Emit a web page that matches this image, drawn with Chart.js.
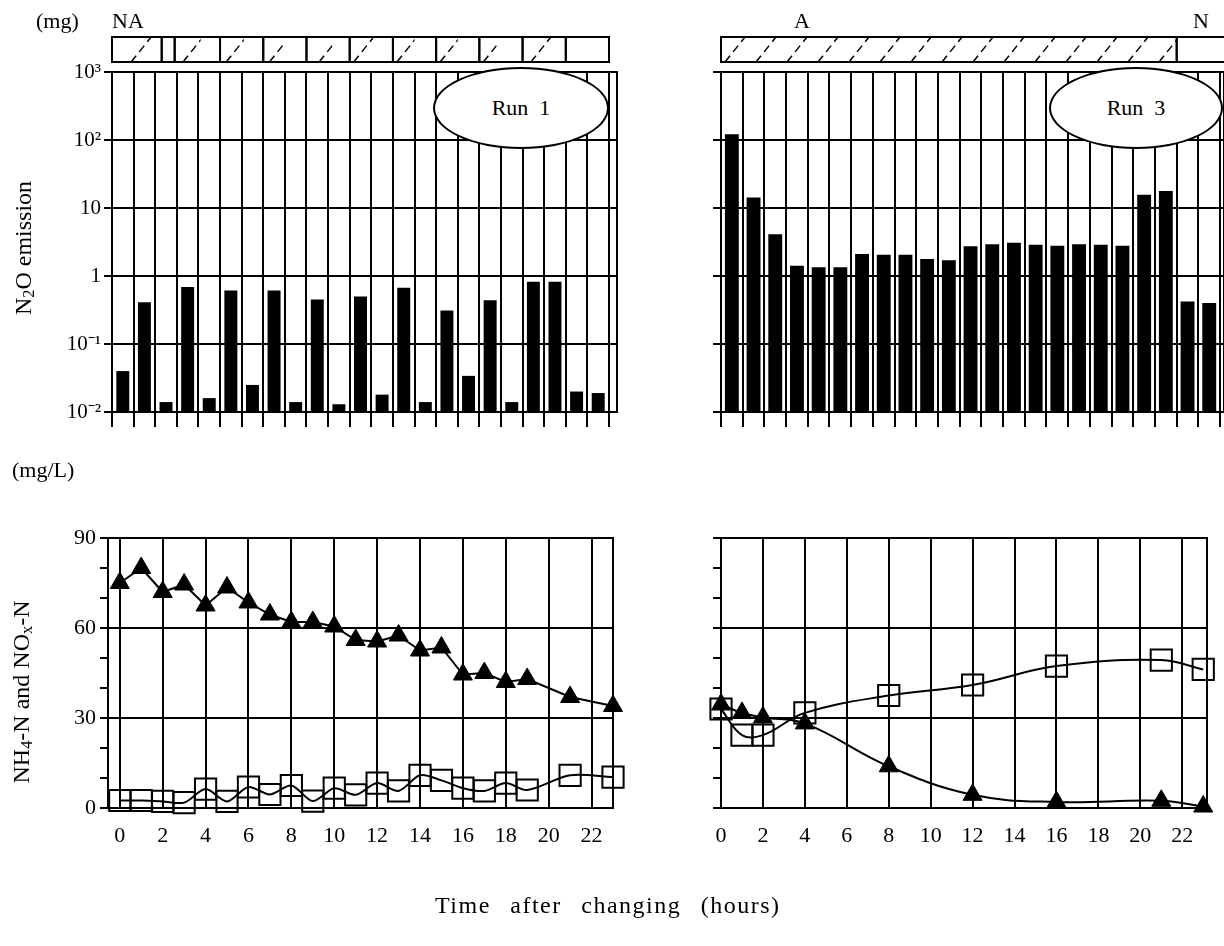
<!DOCTYPE html>
<html>
<head>
<meta charset="utf-8">
<script src="https://cdn.jsdelivr.net/npm/chart.js@4.4.1/dist/chart.umd.min.js"></script>
<style>
  html, body { margin: 0; padding: 0; background: #fff; }
  #page { position: relative; width: 1224px; height: 946px; overflow: hidden;
          font-family: "Liberation Serif", "Times New Roman", serif; color: #000; }
  canvas { position: absolute; }
  .lbl { position: absolute; font-size: 22px; line-height: 1; white-space: nowrap; }
  .ylab { position: absolute; font-size: 24px; line-height: 1; white-space: nowrap;
          transform: translate(-50%, -50%) rotate(-90deg); }
  .ylab sub { font-size: 0.68em; vertical-align: -0.2em; }
  .run { position: absolute; box-sizing: border-box; border: 2px solid #000; border-radius: 50%;
         background: #fff; display: flex; align-items: center; justify-content: center;
         font-size: 22px; white-space: pre; }
</style>
</head>
<body>
<div id="page">
  <canvas id="run1N2OChart" width="630" height="440" style="left:0;top:0"></canvas>
  <canvas id="run3N2OChart" width="584" height="440" style="left:640px;top:0"></canvas>
  <canvas id="run1NChart" width="630" height="486" style="left:0;top:460px"></canvas>
  <canvas id="run3NChart" width="584" height="486" style="left:640px;top:460px"></canvas>

  <div class="lbl" style="left:36px;top:10px">(mg)</div>
  <div class="lbl" style="left:112px;top:10px">NA</div>
  <div class="lbl" style="left:794px;top:10px">A</div>
  <div class="lbl" style="left:1193px;top:10px">N</div>
  <div class="lbl" style="left:12px;top:459px">(mg/L)</div>
  <div class="lbl" style="left:435px;top:893px;font-size:24px;word-spacing:12px;letter-spacing:1.5px">Time after changing (hours)</div>
  <div class="ylab" style="left:24px;top:248px">N<sub>2</sub>O emission</div>
  <div class="ylab" style="left:22px;top:692px">NH<sub>4</sub>-N and NO<sub>x</sub>-N</div>
  <div class="run" style="left:433px;top:67px;width:176px;height:82px">Run  1</div>
  <div class="run" style="left:1049px;top:67px;width:174px;height:82px">Run  3</div>
</div>

<script>
// N2O emission per hour (mg), log scale
const barHours = [0, 1, 2, 3, 4, 5, 6, 7, 8, 9, 10, 11, 12, 13, 14, 15, 16, 17, 18, 19, 20, 21, 22];
const run1N2O = [0.040, 0.41, 0.014, 0.69, 0.016, 0.61, 0.025, 0.61, 0.014, 0.45, 0.013, 0.50,
                 0.018, 0.67, 0.014, 0.31, 0.034, 0.44, 0.014, 0.82, 0.82, 0.020, 0.019];
const run3N2O = [121, 14.3, 4.1, 1.41, 1.34, 1.34, 2.1, 2.05, 2.05, 1.78, 1.71, 2.75,
                 2.92, 3.07, 2.89, 2.78, 2.92, 2.89, 2.78, 15.6, 17.8, 0.42, 0.40];
const logTicks = [0.01, 0.1, 1, 10, 100, 1000];
const logLabels = ['10⁻²', '10⁻¹', '1', '10', '10²', '10³'];

// NH4-N and NOx-N (mg/L)
const run1Hours = [0, 1, 2, 3, 4, 5, 6, 7, 8, 9, 10, 11, 12, 13, 14, 15, 16, 17, 18, 19, 21, 23];
const run1NH4 = [75, 80, 72, 74.5, 67.5, 73.5, 68.5, 64.5, 62, 62, 60.5, 56, 55.5, 57.5, 52.5, 53.5,
                 44.5, 45, 42, 43, 37, 34];
const run1NOx = [2.5, 2.5, 2.2, 1.8, 6.3, 2.2, 7.0, 4.5, 7.5, 2.3, 6.6, 4.4, 8.3, 5.7, 10.9, 9.2,
                 6.6, 5.7, 8.3, 6.0, 10.9, 10.3];
const run3Hours = [0, 1, 2, 4, 8, 12, 16, 21, 23];
const run3NH4 = [34.5, 31.7, 30.2, 28.2, 13.9, 4.4, 2.0, 2.4, 0.5];
const run3NOx = [33, 24.3, 24.3, 31.7, 37.5, 41, 47.3, 49.3, 46.2];
const hourLabels = [0, 2, 4, 6, 8, 10, 12, 14, 16, 18, 20, 22];

// operation mode strip: cell boundaries and aerated (hatched) spans, hours
const run1Cells = [0, 2.3, 2.9, 5, 7, 9, 11, 13, 15, 17, 19, 21, 23];
const run1Aerated = [[0.7, 2.1], [3.1, 4.1], [5.1, 6.1], [7.1, 8], [9.4, 10.2], [11, 12.1],
                     [13, 14], [15, 16], [17, 17.8], [19.2, 20.8]];
const run3Cells = [0, 21, 23.4];
const run3Aerated = [[0, 21]];

Chart.defaults.font.family = '"Liberation Serif", "Times New Roman", serif';
Chart.defaults.font.size = 22;
Chart.defaults.color = '#000';

const frame = {
  id: 'frame',
  afterDraw(chart) {
    const a = chart.chartArea, ctx = chart.ctx;
    ctx.save();
    ctx.strokeStyle = '#000';
    ctx.lineWidth = 2;
    ctx.strokeRect(a.left, a.top, a.right - a.left, a.bottom - a.top);
    ctx.restore();
  }
};

function modeStrip(cells, aerated) {
  return {
    id: 'modeStrip',
    afterDraw(chart) {
      const x = chart.scales.x, ctx = chart.ctx;
      const top = 37, h = 25;
      ctx.save();
      ctx.strokeStyle = '#000';
      aerated.forEach(([s, e]) => {
        const x0 = x.getPixelForValue(s), x1 = x.getPixelForValue(e);
        ctx.save();
        ctx.beginPath();
        ctx.rect(x0, top, x1 - x0, h);
        ctx.clip();
        ctx.lineWidth = 1.5;
        ctx.setLineDash([8, 5]);
        for (let p = x0 + 4; p < x1 + 20; p += 31) {
          ctx.beginPath();
          ctx.moveTo(p, top + h);
          ctx.lineTo(p + 20, top);
          ctx.stroke();
        }
        ctx.restore();
      });
      ctx.lineWidth = 2;
      for (let i = 0; i < cells.length - 1; i++) {
        const x0 = x.getPixelForValue(cells[i]), x1 = x.getPixelForValue(cells[i + 1]);
        ctx.strokeRect(x0, top, x1 - x0, h);
      }
      ctx.restore();
    }
  };
}

function barChart(id, values, opt) {
  return new Chart(document.getElementById(id), {
    type: 'bar',
    data: {
      datasets: [{
        data: barHours.map((hr, i) => ({ x: hr + 0.5, y: values[i] })),
        backgroundColor: '#000',
        barPercentage: opt.barPct,
        categoryPercentage: 1,
        base: 0.01
      }]
    },
    options: {
      responsive: false,
      animation: false,
      layout: { padding: { top: 72, right: opt.padRight, left: 0, bottom: 0 } },
      plugins: { legend: { display: false }, tooltip: { enabled: false } },
      scales: {
        x: {
          type: 'linear', min: 0, max: opt.xMax, offset: false,
          afterBuildTicks: (s) => { s.ticks = barHours.concat([23]).map((v) => ({ value: v })); },
          afterFit: (s) => { s.height = 28; },
          grid: { color: '#000', lineWidth: 2, tickLength: 15, offset: false },
          border: { display: false },
          ticks: { display: false }
        },
        y: {
          type: 'logarithmic', min: 0.01, max: 1000,
          afterBuildTicks: (s) => { s.ticks = logTicks.map((v) => ({ value: v })); },
          afterFit: (s) => { s.width = opt.yWidth; },
          grid: { color: '#000', lineWidth: 2, tickLength: 8 },
          border: { display: false },
          ticks: { display: opt.yLabels, padding: 3, font: { size: 21 },
                   callback: (v, i) => logLabels[i] }
        }
      }
    },
    plugins: [frame, modeStrip(opt.cells, opt.aerated)]
  });
}

function pts(hours, values) {
  return hours.map((hr, i) => ({ x: hr, y: values[i] }));
}

function lineChart(id, hours, nh4, nox, opt) {
  return new Chart(document.getElementById(id), {
    type: 'line',
    data: {
      datasets: [
        { label: 'NH4-N', data: pts(hours, nh4), borderColor: '#000', borderWidth: 2,
          tension: opt.nh4Tension, pointStyle: 'triangle', pointRadius: 11,
          pointBackgroundColor: '#000', pointBorderColor: '#000', pointBorderWidth: 1, clip: false },
        { label: 'NOx-N', data: pts(hours, nox), borderColor: '#000', borderWidth: 2,
          tension: opt.noxTension, pointStyle: 'rect', pointRadius: 15,
          pointBackgroundColor: 'rgba(0,0,0,0)', pointBorderColor: '#000', pointBorderWidth: 2, clip: false }
      ]
    },
    options: {
      responsive: false,
      animation: false,
      layout: { padding: { top: 78, right: opt.padRight, left: 0, bottom: 0 } },
      plugins: { legend: { display: false }, tooltip: { enabled: false } },
      scales: {
        x: {
          type: 'linear', min: opt.xMin, max: opt.xMax,
          afterBuildTicks: (s) => { s.ticks = hourLabels.map((v) => ({ value: v })); },
          afterFit: (s) => { s.height = 138; },
          grid: { color: '#000', lineWidth: 2, drawTicks: false },
          border: { display: false },
          ticks: { padding: 15, autoSkip: false, maxRotation: 0, font: { size: 22 } }
        },
        y: {
          type: 'linear', min: 0, max: 90,
          afterBuildTicks: (s) => {
            const t = [];
            for (let v = 0; v <= 90; v += 10) t.push({ value: v });
            s.ticks = t;
          },
          afterFit: (s) => { s.width = opt.yWidth; },
          grid: {
            color: (c) => (c.tick && c.tick.value % 30 === 0 ? '#000' : 'rgba(0,0,0,0)'),
            tickColor: '#000', lineWidth: 2, tickLength: 8
          },
          border: { display: false },
          ticks: { display: opt.yLabels, padding: 4, font: { size: 22 },
                   callback: (v) => (v % 30 === 0 ? String(v) : '') }
        }
      }
    },
    plugins: [frame]
  });
}

barChart('run1N2OChart', run1N2O, { xMax: 23.37, padRight: 13, yWidth: 112, yLabels: true,
  barPct: 0.6, cells: run1Cells, aerated: run1Aerated });
barChart('run3N2OChart', run3N2O, { xMax: 23.18, padRight: 0, yWidth: 81, yLabels: false,
  barPct: 0.64, cells: run3Cells, aerated: run3Aerated });
lineChart('run1NChart', run1Hours, run1NH4, run1NOx, { xMin: -0.55, xMax: 23, padRight: 13,
  yWidth: 108, yLabels: true, nh4Tension: 0, noxTension: 0.3 });
lineChart('run3NChart', run3Hours, run3NH4, run3NOx, { xMin: 0, xMax: 23.18, padRight: 0,
  yWidth: 81, yLabels: false, nh4Tension: 0.4, noxTension: 0.4 });
</script>
</body>
</html>
